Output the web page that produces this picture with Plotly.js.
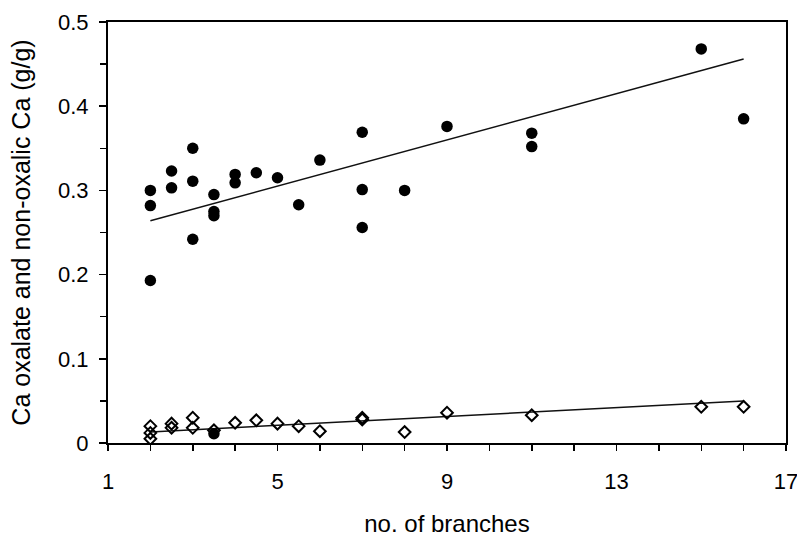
<!DOCTYPE html>
<html>
<head>
<meta charset="utf-8">
<script src="https://cdn.plot.ly/plotly-3.0.1.min.js"></script>
<style>html,body{margin:0;padding:0;background:#fff}#chart{width:797px;height:541px}</style>
</head>
<body>
<div id="chart"></div>
<script>
// Total Ca (filled circles)
const dotBranches = [2,2,2, 2.5,2.5, 3,3,3, 3.5,3.5,3.5,3.5, 4,4, 4.5, 5, 5.5, 6, 7,7,7, 8, 9, 11,11, 15, 16];
const dotCa       = [0.300,0.282,0.193, 0.323,0.303, 0.350,0.311,0.242, 0.295,0.275,0.270,0.011, 0.319,0.309, 0.321, 0.315, 0.283, 0.336, 0.369,0.301,0.256, 0.300, 0.376, 0.368,0.352, 0.468, 0.385];
// Ca oxalate (open diamonds)
const diaBranches = [2,2,2, 2.5,2.5, 3,3, 3.5, 4, 4.5, 5, 5.5, 6, 7,7, 8, 9, 11, 15, 16];
const diaCa       = [0.020,0.012,0.005, 0.023,0.018, 0.030,0.018, 0.015, 0.024, 0.027, 0.023, 0.020, 0.014, 0.030,0.028, 0.013, 0.036, 0.033, 0.043, 0.043];
// Fitted trend lines (end points)
const fitX      = [2, 16];
const fitUpper  = [0.264, 0.456];
const fitLower  = [0.013, 0.050];
// Axis ticks
const xTickVals = [1, 5, 9, 13, 17];
const yTickVals = [0, 0.1, 0.2, 0.3, 0.4, 0.5];
const yTickText = ['0', '0.1', '0.2', '0.3', '0.4', '0.5'];

const traces = [
  {x: fitX, y: fitUpper, type: 'scatter', mode: 'lines', line: {color: '#111', width: 1.5}, hoverinfo: 'skip'},
  {x: fitX, y: fitLower, type: 'scatter', mode: 'lines', line: {color: '#111', width: 1.5}, hoverinfo: 'skip'},
  {x: diaBranches, y: diaCa, type: 'scatter', mode: 'markers',
   marker: {symbol: 'diamond-open', size: 9, color: '#000', line: {width: 2, color: '#000'}}},
  {x: dotBranches, y: dotCa, type: 'scatter', mode: 'markers',
   marker: {symbol: 'circle', size: 11.5, color: '#000'}}
];

const font = {family: 'Arial, "Liberation Sans", sans-serif', color: '#000'};
const layout = {
  width: 797, height: 541,
  margin: {l: 108, r: 11, t: 22, b: 98},
  paper_bgcolor: '#fff', plot_bgcolor: '#fff',
  showlegend: false,
  font: Object.assign({size: 22}, font),
  xaxis: {
    range: [1, 17], tickmode: 'array', tickvals: xTickVals, ticktext: xTickVals.map(String),
    ticks: 'outside', ticklen: 6, tickwidth: 1.5, tickcolor: '#000',
    minor: {dtick: 1, tick0: 1, ticks: 'outside', ticklen: 6, tickwidth: 1.5, tickcolor: '#000', showgrid: false},
    showgrid: false, zeroline: false,
    showline: true, linecolor: '#000', linewidth: 2, mirror: true,
    ticklabelstandoff: 12, ticklabeloverflow: 'allow',
    tickfont: Object.assign({size: 22}, font),
    title: {text: 'no. of branches', font: Object.assign({size: 24}, font), standoff: 22}
  },
  yaxis: {
    range: [0, 0.5], tickmode: 'array', tickvals: yTickVals, ticktext: yTickText,
    ticks: 'outside', ticklen: 7, tickwidth: 1.5, tickcolor: '#000',
    minor: {dtick: 0.05, tick0: 0, ticks: 'outside', ticklen: 6, tickwidth: 1.5, tickcolor: '#000', showgrid: false},
    showgrid: false, zeroline: false,
    showline: true, linecolor: '#000', linewidth: 2, mirror: true,
    ticklabelstandoff: 6, ticklabeloverflow: 'allow',
    tickfont: Object.assign({size: 22}, font),
    title: {text: 'Ca oxalate and non-oxalic Ca (g/g)', font: Object.assign({size: 25}, font), standoff: 20}
  }
};

Plotly.newPlot('chart', traces, layout, {staticPlot: true, displayModeBar: false});
</script>
</body>
</html>
